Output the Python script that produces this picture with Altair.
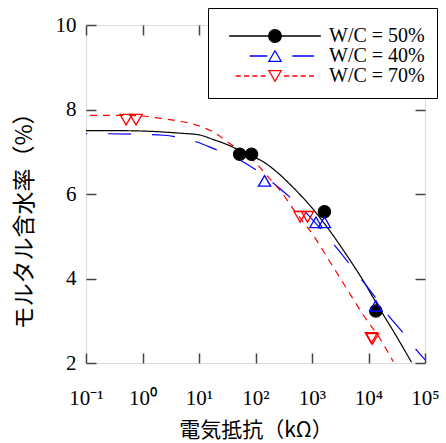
import altair as alt
import pandas as pd

# ---------------- data ----------------
series = ["W/C = 50%", "W/C = 40%", "W/C = 70%"]
colors = ["#000000", "#0000ff", "#ff0000"]

# fitted curves: x = log10(resistance / kΩ), y = moisture (%)
black_curve_logx = [-1.0, -0.5, 0.0, 0.66, 1.0, 1.25, 1.55, 1.80, 2.14, 2.43, 2.61, 3.02, 3.32, 3.61, 3.91, 4.20, 4.50, 4.76]
black_curve_y = [7.50, 7.50, 7.49, 7.44, 7.40, 7.29, 7.14, 6.97, 6.76, 6.46, 6.23, 5.64, 5.12, 4.56, 3.94, 3.28, 2.62, 2.02]

blue_curve_logx = [-1.0, 0.0, 0.37, 0.96, 1.25, 1.73, 2.02, 2.43, 2.82, 3.17, 3.47, 3.79, 4.06, 4.32, 4.62, 4.97, 5.0]
blue_curve_y = [7.43, 7.41, 7.39, 7.23, 7.08, 6.80, 6.56, 6.13, 5.66, 5.15, 4.67, 4.12, 3.66, 3.18, 2.70, 2.12, 2.08]

red_curve_logx = [-1.0, -0.22, 0.37, 0.96, 1.25, 1.55, 2.02, 2.20, 2.43, 2.70, 3.02, 3.32, 3.61, 3.91, 4.20, 4.44]
red_curve_y = [7.86, 7.86, 7.78, 7.63, 7.47, 7.19, 6.72, 6.44, 6.09, 5.59, 5.03, 4.39, 3.77, 3.13, 2.58, 2.03]

# measured points: x = log10(resistance / kΩ)
black_pts_logx = [1.72, 1.93, 3.22, 4.13]
black_pts_y = [6.94, 6.94, 5.58, 3.23]
blue_pts_logx = [2.16, 3.07, 3.22, 4.13]
blue_pts_y = [6.31, 5.33, 5.33, 3.35]
red_pts_logx = [-0.29, -0.115, 2.79, 2.92, 4.05, 4.07]
red_pts_y = [7.76, 7.76, 5.46, 5.46, 2.59, 2.57]

x_tick_values = [-1, 0, 1, 2, 3, 4, 5]
x_tick_labels = ["10⁻¹", "10⁰", "10¹", "10²", "10³", "10⁴", "10⁵"]
y_tick_values = [2, 4, 6, 8, 10]

# ---------------- styles ----------------
dashes = [[1, 0], [23, 21], [7, 6]]
point_shapes = ["circle", "triangle-up", "triangle-down"]
point_fills = ["#000000", "transparent", "transparent"]
# legend symbols: line sample + marker (unit = 6 px)
legend_paths = [
    "M-7.64,0H7.64M1.05,0A1.05,1.05,0,1,1,-1.05,0A1.05,1.05,0,1,1,1.05,0Z",
    "M-4.22,0H-1.28M2.89,0H6.5M0,-0.88L1.02,0.88L-1.02,0.88Z",
    "M-6.55,0H-5.72M-5.17,0H-4.33M-3.78,0H-2.95M-2.38,0H-1.55"
    "M1.5,0H2.33M2.88,0H3.72M4.28,0H5.12M5.67,0H6.5M0,0.88L1.02,-0.88L-1.02,-0.88Z",
]

# ---------------- tables ----------------
curve_rows = []
for name, xs, ys in [(series[0], black_curve_logx, black_curve_y),
                     (series[1], blue_curve_logx, blue_curve_y),
                     (series[2], red_curve_logx, red_curve_y)]:
    for i, (a, b) in enumerate(zip(xs, ys)):
        curve_rows.append({"series": name, "logx": a, "y": b, "order": i})
curves = pd.DataFrame(curve_rows)

pt_rows = []
for name, xs, ys in [(series[0], black_pts_logx, black_pts_y),
                     (series[1], blue_pts_logx, blue_pts_y),
                     (series[2], red_pts_logx, red_pts_y)]:
    for a, b in zip(xs, ys):
        pt_rows.append({"series": name, "logx": a, "y": b})
points = pd.DataFrame(pt_rows)

legend_df = pd.DataFrame({"series": series})

# ---------------- scales / axes ----------------
x_scale = alt.Scale(domain=[-1, 5], nice=False, zero=False)
y_scale = alt.Scale(domain=[2, 10], nice=False, zero=False)

label_expr = "[" + ",".join("'" + t + "'" for t in x_tick_labels) + "][round(datum.value) + 1]"

tick_kw = dict(tickSize=10, offset=-10, domain=False, grid=False,
               tickColor="#444444", tickWidth=1.5)

bottom_axis = alt.Axis(orient="bottom", values=x_tick_values, labelExpr=label_expr,
                       labelFont="Liberation Serif", labelFontSize=21, labelColor="black",
                       labelPadding=24, labelFlush=False, labelOverlap=False,
                       title="電気抵抗（kΩ）", titleFont="Noto Sans CJK JP",
                       titleFontSize=21, titleFontWeight="normal", titleColor="black",
                       titlePadding=11, **tick_kw)
left_axis = alt.Axis(orient="left", values=y_tick_values,
                     labelFont="Liberation Serif", labelFontSize=21, labelColor="black",
                     labelPadding=10, labelFlush=False, labelOverlap=False,
                     title="モルタル含水率（%）", titleFont="Noto Sans CJK JP",
                     titleFontSize=23, titleFontWeight="normal", titleColor="black",
                     titlePadding=19, titleY=190, **tick_kw)
top_axis = alt.Axis(orient="top", values=x_tick_values, labels=False, title=None, **tick_kw)
right_axis = alt.Axis(orient="right", values=y_tick_values, labels=False, title=None, **tick_kw)

lines = alt.Chart(curves).mark_line(strokeWidth=1.2, interpolate="monotone", clip=True,
                                    strokeDashOffset=22).encode(
    x=alt.X("logx:Q", scale=x_scale, axis=bottom_axis),
    y=alt.Y("y:Q", scale=y_scale, axis=left_axis),
    color=alt.Color("series:N", scale=alt.Scale(domain=series, range=colors), legend=None),
    strokeDash=alt.StrokeDash("series:N", scale=alt.Scale(domain=series, range=dashes), legend=None),
    order=alt.Order("order:Q"),
)

pts = alt.Chart(points).mark_point(size=150, strokeWidth=1.3, opacity=1, filled=False).encode(
    x=alt.X("logx:Q", scale=x_scale, axis=top_axis),
    y=alt.Y("y:Q", scale=y_scale, axis=right_axis),
    color=alt.Color("series:N", scale=alt.Scale(domain=series, range=colors), legend=None),
    shape=alt.Shape("series:N", scale=alt.Scale(domain=series, range=point_shapes), legend=None),
    fill=alt.Fill("series:N", scale=alt.Scale(domain=series, range=point_fills), legend=None),
)

legend_def = alt.Legend(
    title=" ", titleFontSize=6, titlePadding=0,
    orient="none", legendX=122, legendY=-17,
    fillColor="white", strokeColor="black", padding=12,
    symbolSize=144, symbolStrokeWidth=1.3, symbolOpacity=1,
    symbolOffset=45, labelOffset=44, rowPadding=-1,
    labelFont="Liberation Serif", labelFontSize=20, labelColor="black", labelLimit=300,
)

leg = alt.Chart(legend_df).mark_point(opacity=0, strokeWidth=1.3).encode(
    color=alt.Color("series:N", scale=alt.Scale(domain=series, range=colors), legend=legend_def),
    shape=alt.Shape("series:N", scale=alt.Scale(domain=series, range=legend_paths), legend=legend_def),
    fill=alt.Fill("series:N", scale=alt.Scale(domain=series, range=point_fills), legend=legend_def),
)

chart = alt.layer(lines, pts, leg).resolve_scale(
    color="independent", shape="independent", fill="independent"
).resolve_axis(
    x="independent", y="independent"
).properties(
    width=339, height=338,
    autosize=alt.AutoSizeParams(type="none"),
    padding={"left": 86, "top": 25, "right": 21, "bottom": 80},
).configure_view(
    stroke="#444444", strokeWidth=1.5
).configure(background="white")

chart.save("out.html", embed_options={"renderer": "svg", "actions": False})
